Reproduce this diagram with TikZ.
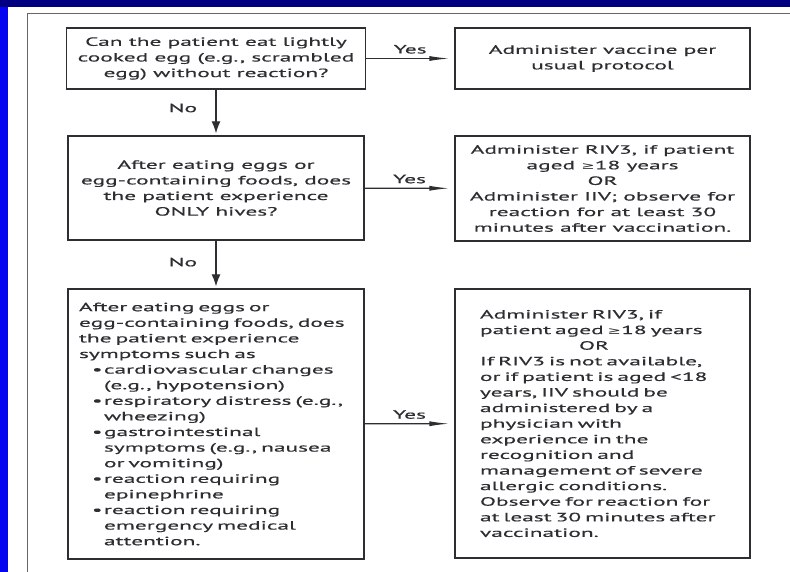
\documentclass[tikz,border=0pt]{standalone}
\usepackage{fontspec}
\setmainfont[FakeStretch=1.95,FakeBold=0.5]{PT Sans}
\newfontfamily\symfont[FakeStretch=1.6]{DejaVu Sans}
\usetikzlibrary{arrows.meta}
\definecolor{slidenavy}{RGB}{0,0,128}
\definecolor{slideblue}{RGB}{5,5,240}
\definecolor{inkgray}{RGB}{45,45,50}
\newcommand{\geqsym}{{\symfont\fontsize{10}{12}\selectfont ≥}}
\newcommand{\bul}{\hspace*{13pt}\makebox[12pt][l]{\textbullet}}
\newcommand{\hangin}{\hspace*{25pt}}
\hyphenpenalty=10000
\tikzset{
  chartbox/.style={draw=inkgray, line width=1.3pt, rectangle, minimum width=296pt,
    text=inkgray, font=\fontsize{12}{15.6}\selectfont, inner xsep=11pt},
  harrow/.style={-{Latex[length=20pt,width=5pt]}, line width=1.2pt, inkgray, shorten >=5pt},
  varrow/.style={-{Latex[length=12pt,width=9pt]}, line width=1.2pt, inkgray, shorten >=2pt},
  tag/.style={text=inkgray, font=\fontsize{12}{14}\selectfont}
}
\begin{document}
\begin{tikzpicture}[x=1pt,y=-1pt]
\useasboundingbox (0,0) rectangle (790,572);

% Slide background
\fill[white] (0,0) rectangle (790,572);
\fill[slideblue] (0,0) rectangle (8,572);
\fill[slidenavy] (0,0) rectangle (790,7);

% Frame
\draw[black!60, line width=0.8pt] (790,13) -- (27,13) -- (27,572);

% Questions
\node[chartbox, minimum height=61pt, align=center] (q1) at (216,58.5)
  {Can the patient eat lightly\\cooked egg (e.g., scrambled\\egg) without reaction?};
\node[chartbox, minimum height=104pt, align=center] (q2) at (216,188)
  {After eating eggs or\\egg-containing foods, does\\the patient experience\\ONLY hives?};
\node[chartbox, minimum height=270pt, text width=274pt, align=left] (q3) at (216,424)
  {\hyphenpenalty=10000 After eating eggs or\\egg-containing foods, does\\the patient experience\\symptoms such as\\
   \bul cardiovascular changes\\\hangin(e.g., hypotension)\\
   \bul respiratory distress (e.g.,\\\hangin wheezing)\\
   \bul gastrointestinal\\\hangin symptoms (e.g., nausea\\\hangin or vomiting)\\
   \bul reaction requiring\\\hangin epinephrine\\
   \bul reaction requiring\\\hangin emergency medical\\\hangin attention.};

% Actions
\node[chartbox, minimum width=295pt, minimum height=61pt, align=center] (a1) at (602.5,58.5)
  {Administer vaccine per\\usual protocol};
\node[chartbox, minimum width=295pt, minimum height=105pt, align=center] (a2) at (602.5,188.5)
  {Administer RIV3, if patient\\aged \geqsym18 years\\OR\\Administer IIV; observe for\\reaction for at least 30\\minutes after vaccination.};
\node[chartbox, minimum width=295pt, minimum height=269pt, text width=245pt, inner xsep=25pt, align=left] (a3) at (602.5,423.5)
  {\hyphenpenalty=10000 Administer RIV3, if\\patient aged \geqsym18 years\\\makebox[228pt]{OR}\\If RIV3 is not available,\\or if patient is aged <18\\
   years, IIV should be\\administered by a\\physician with\\experience in the\\recognition and\\
   management of severe\\allergic conditions.\\Observe for reaction for\\at least 30 minutes after\\vaccination.};

% Yes branches
\draw[harrow] (q1) -- (a1) node[tag, midway, above=1pt] {Yes};
\draw[harrow] (q2) -- (a2) node[tag, midway, above=1pt] {Yes};
\draw[harrow] (q3) -- (a3) node[tag, midway, above=1pt] {Yes};

% No branches
\draw[varrow] (q1) -- (q2) node[tag, pos=0.4, left=15pt] {No};
\draw[varrow] (q2) -- (q3) node[tag, pos=0.45, left=15pt] {No};
\end{tikzpicture}
\end{document}
